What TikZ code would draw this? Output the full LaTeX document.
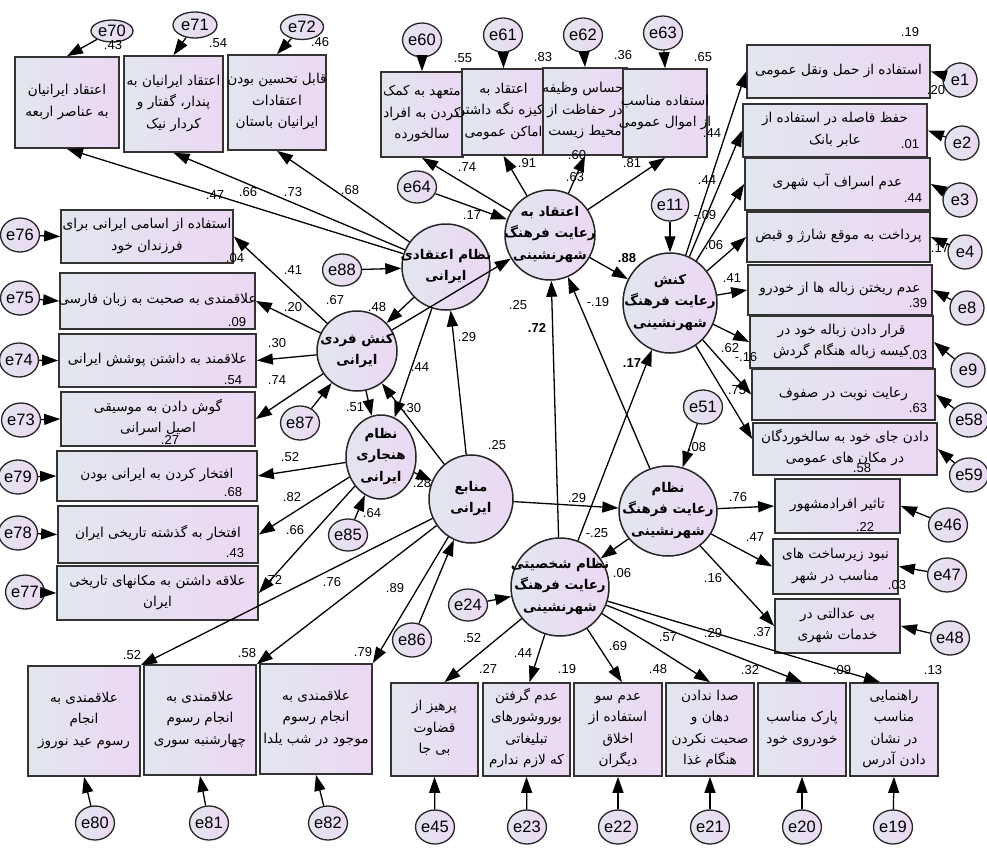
\documentclass[tikz,border=0pt]{standalone}
\usepackage{fontspec}
\setmainfont{Liberation Sans}
\newfontfamily\fafont[Script=Arabic]{DejaVu Sans}
\TeXXeTstate=1
\usetikzlibrary{arrows.meta,shapes.geometric,calc}
\definecolor{boxL}{RGB}{226,230,238}
\definecolor{boxR}{RGB}{236,216,244}
\newcommand{\fatx}[1]{\beginR #1\endR}
\newcommand{\zbox}[1]{\raisebox{-4.5pt}{\smash{\makebox[0pt]{\begin{tabular}{@{}c@{}}#1\end{tabular}}}}}
\begin{document}
\begin{tikzpicture}[x=1pt,y=-1pt,
 wh/.style 2 args={minimum width=#1pt,minimum height=#2pt},
 obsbox/.style={rectangle,draw=black!80,line width=1.7pt,left color=boxL,right color=boxR,inner sep=0pt,font=\fafont\fontsize{13.6}{21.5}\selectfont},
 latent/.style={ellipse,draw=black!85,line width=1.5pt,left color=boxL,right color=boxR,inner sep=0pt,font=\fafont\bfseries\fontsize{13.4}{21.5}\selectfont},
 errc/.style={ellipse,draw=black!85,line width=1.3pt,left color=boxL,right color=boxR,inner sep=0pt,minimum width=34pt,minimum height=34pt,font=\fontsize{16.5}{16.5}\selectfont},
 lbl/.style={inner sep=0pt,font=\fontsize{13}{13}\selectfont},
 blbl/.style={inner sep=0pt,font=\bfseries\fontsize{13}{13}\selectfont},
 arr/.style={-{Triangle[length=16pt,width=11pt]},line width=1.3pt},
]
\useasboundingbox (0,0) rectangle (987,849);
\fill[white] (0,0) rectangle (987,849);

% ---------- observed boxes ----------
\node[obsbox,wh={104}{91}] (A1) at (67,102.5) {\zbox{\fatx{اعتقاد ایرانیان}\\\fatx{به عناصر اربعه}}};
\node[obsbox,wh={99}{96}] (A2) at (173.5,104) {\zbox{\fatx{اعتقاد ایرانیان به}\\\fatx{پندار، گفتار و}\\\fatx{کردار نیک}}};
\node[obsbox,wh={98}{95}] (A3) at (277,102.5) {\zbox{\fatx{قابل تحسین بودن}\\\fatx{اعتقادات}\\\fatx{ایرانیان باستان}}};

\node[obsbox,wh={82}{85}] (B1) at (422,114.5) {\zbox{\fatx{متعهد به کمک}\\\fatx{کردن به افراد}\\\fatx{سالخورده}}};
\node[obsbox,wh={83}{86}] (B2) at (503.5,112) {\zbox{\fatx{اعتقاد به}\\\fatx{پاکیزه نگه داشتن}\\\fatx{اماکن عمومی}}};
\node[obsbox,wh={84}{87}] (B3) at (585,111.5) {\zbox{\fatx{احساس وظیفه}\\\fatx{در حفاظت از}\\\fatx{محیط زیست}}};
\node[obsbox,wh={84}{88}] (B4) at (665,113) {\zbox{\fatx{استفاده مناسب}\\\fatx{از اموال عمومی}}};

\node[obsbox,wh={183}{53}] (C1) at (838.5,71.5) {\zbox{\fatx{استفاده از حمل ونقل عمومی}}};
\node[obsbox,wh={184}{53}] (C2) at (835,130.5) {\zbox{\fatx{حفظ فاصله در استفاده از}\\\fatx{عابر بانک}}};
\node[obsbox,wh={185}{52}] (C3) at (837.5,184) {\zbox{\fatx{عدم اسراف آب شهری}}};
\node[obsbox,wh={183}{50}] (C4) at (838.5,237) {\zbox{\fatx{پرداخت به موقع شارژ و قبض}}};
\node[obsbox,wh={184}{50}] (C5) at (840,290) {\zbox{\fatx{عدم ریختن زباله ها از خودرو}}};
\node[obsbox,wh={183}{52}] (C6) at (841.5,342) {\zbox{\fatx{قرار دادن زباله خود در}\\\fatx{کیسه زباله هنگام گردش}}};
\node[obsbox,wh={183}{51}] (C7) at (843.5,394.5) {\zbox{\fatx{رعایت نوبت در صفوف}}};
\node[obsbox,wh={184}{52}] (C8) at (845,449) {\zbox{\fatx{دادن جای خود به سالخوردگان}\\\fatx{در مکان های عمومی}}};

\node[obsbox,wh={125}{54}] (D1) at (837.5,506) {\zbox{\fatx{تاثیر افرادمشهور}}};
\node[obsbox,wh={125}{55}] (D2) at (835.5,566.5) {\zbox{\fatx{نبود زیرساخت های}\\\fatx{مناسب در شهر}}};
\node[obsbox,wh={125}{54}] (D3) at (837.5,626) {\zbox{\fatx{بی عدالتی در}\\\fatx{خدمات شهری}}};

\node[obsbox,wh={172}{53}] (H1) at (147,236.5) {\zbox{\fatx{استفاده از اسامی ایرانی برای}\\\fatx{فرزندان خود}}};
\node[obsbox,wh={195}{56}] (H2) at (157.5,301) {\zbox{\fatx{علاقمندی به صحبت به زبان فارسی}}};
\node[obsbox,wh={197}{53}] (H3) at (157.5,360.5) {\zbox{\fatx{علاقمند به داشتن پوشش ایرانی}}};
\node[obsbox,wh={194}{54}] (H4) at (158,419) {\zbox{\fatx{گوش دادن به موسیقی}\\\fatx{اصیل اسرانی}}};
\node[obsbox,wh={200}{50}] (H5) at (157,476) {\zbox{\fatx{افتخار کردن به ایرانی بودن}}};
\node[obsbox,wh={200}{57}] (H6) at (158,534.5) {\zbox{\fatx{افتخار به گذشته تاریخی ایران}}};
\node[obsbox,wh={201}{54}] (H7) at (157.5,593) {\zbox{\fatx{علاقه داشتن به مکانهای تاریخی}\\\fatx{ایران}}};

\node[obsbox,wh={112}{110}] (G1) at (84,721) {\zbox{\fatx{علاقمندی به}\\\fatx{انجام}\\\fatx{رسوم عید نوروز}}};
\node[obsbox,wh={112}{110}] (G2) at (200,720) {\zbox{\fatx{علاقمندی به}\\\fatx{انجام رسوم}\\\fatx{چهارشنبه سوری}}};
\node[obsbox,wh={112}{110}] (G3) at (316,719) {\zbox{\fatx{علاقمندی به}\\\fatx{انجام رسوم}\\\fatx{موجود در شب یلدا}}};

\node[obsbox,wh={87}{93}] (F1) at (434.5,729.5) {\zbox{\fatx{پرهیز از}\\\fatx{قضاوت}\\\fatx{بی جا}}};
\node[obsbox,wh={87}{93}] (F2) at (526.5,729.5) {\zbox{\fatx{عدم گرفتن}\\\fatx{بوروشورهای}\\\fatx{تبلیغاتی}\\\fatx{که لازم ندارم}}};
\node[obsbox,wh={88}{93}] (F3) at (618,729.5) {\zbox{\fatx{عدم سو}\\\fatx{استفاده از}\\\fatx{اخلاق}\\\fatx{دیگران}}};
\node[obsbox,wh={88}{93}] (F4) at (710,729.5) {\zbox{\fatx{صدا ندادن}\\\fatx{دهان و}\\\fatx{صحبت نکردن}\\\fatx{هنگام غذا}}};
\node[obsbox,wh={88}{93}] (F5) at (802,729.5) {\zbox{\fatx{پارک مناسب}\\\fatx{خودروی خود}}};
\node[obsbox,wh={88}{93}] (F6) at (894,729.5) {\zbox{\fatx{راهنمایی}\\\fatx{مناسب}\\\fatx{در نشان}\\\fatx{دادن آدرس}}};

% ---------- latent variables ----------
\node[latent,wh={90}{90}] (L1) at (550,235) {\zbox{\fatx{اعتقاد به}\\\fatx{رعایت فرهنگ}\\\fatx{شهرنشینی}}};
\node[latent,wh={88}{86}] (L2) at (446,267) {\zbox{\fatx{نظام اعتقادی}\\\fatx{ایرانی}}};
\node[latent,wh={80}{80}] (L3) at (357,351) {\zbox{\fatx{کنش فردی}\\\fatx{ایرانی}}};
\node[latent,wh={94}{100}] (L4) at (670,303) {\zbox{\fatx{کنش}\\\fatx{رعایت فرهنگ}\\\fatx{شهرنشینی}}};
\node[latent,wh={70}{84}] (L5) at (381,457) {\zbox{\fatx{نظام}\\\fatx{هنجاری}\\\fatx{ایرانی}}};
\node[latent,wh={84}{88}] (L6) at (471,499) {\zbox{\fatx{منابع}\\\fatx{ایرانی}}};
\node[latent,wh={98}{90}] (L7) at (668,511) {\zbox{\fatx{نظام}\\\fatx{رعایت فرهنگ}\\\fatx{شهرنشینی}}};
\node[latent,wh={98}{98}] (L8) at (560,587) {\zbox{\fatx{نظام شخصیتی}\\\fatx{رعایت فرهنگ}\\\fatx{شهرنشینی}}};

% ---------- error terms ----------
\node[errc,wh={42}{22}] (e70) at (112,31) {e70};
\node[errc,wh={44}{26}] (e71) at (195,25) {e71};
\node[errc,wh={43}{25}] (e72) at (302,27) {e72};
\node[errc] (e60) at (422,40) {e60};
\node[errc] (e61) at (503,35) {e61};
\node[errc] (e62) at (583,35) {e62};
\node[errc] (e63) at (663,33) {e63};
\node[errc,wh={32}{32}] (e64) at (417,187) {e64};
\node[errc,wh={32}{32}] (e88) at (342,270) {e88};
\node[errc,wh={32}{32}] (e11) at (670,205) {e11};
\node[errc] (e87) at (300,423) {e87};
\node[errc,wh={32}{32}] (e85) at (348,535) {e85};
\node[errc] (e86) at (412,640) {e86};
\node[errc,wh={32}{32}] (e24) at (468,605) {e24};
\node[errc] (e51) at (703,407) {e51};
\node[lbl] (n18) at (936,90) {.20};
\node[lbl] (n21) at (940,248) {.17};
\node[errc] (e1) at (960,80) {e1};
\node[errc] (e2) at (962,143) {e2};
\node[errc] (e3) at (960,200) {e3};
\node[errc] (e4) at (965,252) {e4};
\node[errc] (e8) at (967,308) {e8};
\node[errc] (e9) at (968,370) {e9};
\node[errc] (e58) at (969,420) {e58};
\node[errc] (e59) at (969,475) {e59};
\node[errc] (e46) at (948,525) {e46};
\node[errc] (e47) at (947,575) {e47};
\node[errc] (e48) at (950,638) {e48};
\node[errc] (e76) at (20,235) {e76};
\node[errc] (e75) at (20,298) {e75};
\node[errc] (e74) at (19,360) {e74};
\node[errc] (e73) at (21,420) {e73};
\node[errc] (e79) at (18,477) {e79};
\node[errc] (e78) at (18,533) {e78};
\node[errc] (e77) at (25,592) {e77};
\node[errc] (e80) at (95,823) {e80};
\node[errc] (e81) at (209,823) {e81};
\node[errc] (e82) at (328,823) {e82};
\node[errc] (e45) at (435,827) {e45};
\node[errc] (e23) at (527,827) {e23};
\node[errc] (e22) at (618,827) {e22};
\node[errc] (e21) at (710,827) {e21};
\node[errc] (e20) at (802,827) {e20};
\node[errc] (e19) at (893,827) {e19};

% ---------- error arrows ----------
\draw[arr] (e70) -- (A1.north);
\draw[arr] (e71) -- (A2.north);
\draw[arr] (e72) -- (A3.north);
\draw[arr] (e60) -- (B1.north);
\draw[arr] (e61) -- (B2.north);
\draw[arr] (e62) -- (B3.north);
\draw[arr] (e63) -- (B4.north);
\draw[arr] (e1) -- (C1.east);
\draw[arr] (e2) -- (C2.east);
\draw[arr] (e3) -- (C3.east);
\draw[arr] (e4) -- (C4.east);
\draw[arr] (e8) -- (C5.east);
\draw[arr] (e9) -- (C6.east);
\draw[arr] (e58) -- (C7.east);
\draw[arr] (e59) -- (C8.east);
\draw[arr] (e46) -- (D1.east);
\draw[arr] (e47) -- (D2.east);
\draw[arr] (e48) -- (D3.east);
\draw[arr] (e76) -- (H1.west);
\draw[arr] (e75) -- (H2.west);
\draw[arr] (e74) -- (H3.west);
\draw[arr] (e73) -- (H4.west);
\draw[arr] (e79) -- (H5.west);
\draw[arr] (e78) -- (H6.west);
\draw[arr] (e77) -- (H7.west);
\draw[arr] (e80) -- (G1.south);
\draw[arr] (e81) -- (G2.south);
\draw[arr] (e82) -- (G3.south);
\draw[arr] (e45) -- (F1.south);
\draw[arr] (e23) -- (F2.south);
\draw[arr] (e22) -- (F3.south);
\draw[arr] (e21) -- (F4.south);
\draw[arr] (e20) -- (F5.south);
\draw[arr] (e19) -- (F6.south);
\draw[arr] (e64) -- (L1);
\draw[arr] (e88) -- (L2);
\draw[arr] (e11) -- (L4);
\draw[arr] (e87) -- (L3);
\draw[arr] (e85) -- (L5);
\draw[arr] (e86) -- (L6);
\draw[arr] (e24) -- (L8);
\draw[arr] (e51) -- (L7);

% ---------- structural and measurement paths ----------
\draw[arr] (L2) -- (A1.south);
\draw[arr] (L2) -- (A2.south);
\draw[arr] (L2) -- (A3.south);
\draw[arr] (L2) -- (L3);
\draw[arr] (L2) -- (L5);
\draw[arr] (L1) -- (B1.south);
\draw[arr] (L1) -- (B2.south);
\draw[arr] (L1) -- (B3.south);
\draw[arr] (L1) -- (B4.south);
\draw[arr] (L1) -- (L4);
\draw[arr] (L4) -- (C1.west);
\draw[arr] (L4) -- (C2.west);
\draw[arr] (L4) -- (C3.west);
\draw[arr] (L4) -- (C4.west);
\draw[arr] (L4) -- (C5.west);
\draw[arr] (L4) -- (C6.west);
\draw[arr] (L4) -- (C7.west);
\draw[arr] (L4) -- ([yshift=10pt]C8.west);
\draw[arr] (L3) -- (H1.east);
\draw[arr] (L3) -- (H2.east);
\draw[arr] (L3) -- (H3.east);
\draw[arr] (L3) -- (H4.east);
\draw[arr] (L3) -- (L5);
\draw[arr] (L3) -- (L1);
\draw[arr] (L5) -- (H5.east);
\draw[arr] (L5) -- (H6.east);
\draw[arr] (L5) -- (H7.east);
\draw[arr] (L5) -- (L6);
\draw[arr] (L6) -- (L2);
\draw[arr] (L6) -- (L3);
\draw[arr] (L6) -- (L7);
\draw[arr] (L6) -- (G1.north east);
\draw[arr] (L6) -- (G2.north east);
\draw[arr] (L6) -- (G3.north east);
\draw[arr] (L7) -- (D1.west);
\draw[arr] (L7) -- (D2.west);
\draw[arr] (L7) -- (D3.west);
\draw[arr] (L7) -- (L8);
\draw[arr] (L7) -- (L1);
\draw[arr] (L8) -- (L1);
\draw[arr] (L8) -- (L4);
\draw[arr] (L8) -- ([xshift=10pt]F1.north);
\draw[arr] (L8) -- ([xshift=3pt]F2.north);
\draw[arr] (L8) -- ([xshift=4pt]F3.north);
\draw[arr] (L8) -- (F4.north);
\draw[arr] (L8) -- (F5.north);
\draw[arr] (L8) -- ([xshift=-14pt]F6.north);

% ---------- coefficient labels ----------
\node[lbl] (n1) at (113,45) {.43};
\node[lbl] (n2) at (218,43) {.54};
\node[lbl] (n3) at (320,42) {.46};
\node[lbl] (n4) at (215,195) {.47};
\node[lbl] (n5) at (248,192) {.66};
\node[lbl] (n6) at (293,192) {.73};
\node[lbl] (n7) at (350,190) {.68};
\node[lbl] (n8) at (463,58) {.55};
\node[lbl] (n9) at (543,57) {.83};
\node[lbl] (n10) at (623,55) {.36};
\node[lbl] (n11) at (703,57) {.65};
\node[lbl] (n12) at (467,167) {.74};
\node[lbl] (n13) at (527,163) {.91};
\node[lbl] (n14) at (577,155) {.60};
\node[lbl] (n15) at (575,177) {.63};
\node[lbl] (n16) at (632,163) {.81};
\node[lbl] (n17) at (910,32) {.19};
\node[lbl] (n19) at (910,144) {.01};
\node[lbl] (n20) at (913,198) {.44};
\node[lbl] (n22) at (918,303) {.39};
\node[lbl] (n23) at (918,355) {.03};
\node[lbl] (n24) at (918,408) {.63};
\node[lbl] (n25) at (862,468) {.58};
\node[lbl] (n26) at (712,133) {.44};
\node[lbl] (n27) at (707,180) {.44};
\node[lbl] (n28) at (705,215) {-.09};
\node[lbl] (n29) at (714,245) {.06};
\node[lbl] (n30) at (732,278) {.41};
\node[lbl] (n31) at (730,348) {.62};
\node[lbl] (n32) at (746,357) {-.16};
\node[lbl] (n33) at (737,390) {.75};
\node[lbl] (n34) at (865,527) {.22};
\node[lbl] (n35) at (897,585) {.03};
\node[lbl] (n36) at (762,632) {.37};
\node[lbl] (n37) at (738,497) {.76};
\node[lbl] (n38) at (755,537) {.47};
\node[lbl] (n39) at (713,578) {.16};
\node[lbl] (n40) at (713,633) {.29};
\node[lbl] (n41) at (933,670) {.13};
\node[lbl] (n42) at (842,670) {.09};
\node[lbl] (n43) at (750,670) {.32};
\node[lbl] (n44) at (658,669) {.48};
\node[lbl] (n45) at (567,669) {.19};
\node[lbl] (n46) at (488,669) {.27};
\node[lbl] (n47) at (472,638) {.52};
\node[lbl] (n48) at (523,653) {.44};
\node[lbl] (n49) at (618,646) {.69};
\node[lbl] (n50) at (668,637) {.57};
\node[lbl] (n51) at (132,655) {.52};
\node[lbl] (n52) at (247,653) {.58};
\node[lbl] (n53) at (363,652) {.79};
\node[lbl] (n54) at (332,582) {.76};
\node[lbl] (n55) at (395,588) {.89};
\node[lbl] (n56) at (235,258) {.04};
\node[lbl] (n57) at (237,322) {.09};
\node[lbl] (n58) at (233,380) {.54};
\node[lbl] (n59) at (170,440) {.27};
\node[lbl] (n60) at (233,492) {.68};
\node[lbl] (n61) at (235,553) {.43};
\node[lbl] (n62) at (273,580) {.72};
\node[lbl] (n63) at (293,270) {.41};
\node[lbl] (n64) at (293,307) {.20};
\node[lbl] (n65) at (277,343) {.30};
\node[lbl] (n66) at (277,380) {.74};
\node[lbl] (n67) at (290,457) {.52};
\node[lbl] (n68) at (292,497) {.82};
\node[lbl] (n69) at (295,530) {.66};
\node[lbl] (n70) at (335,300) {.67};
\node[lbl] (n71) at (377,307) {.48};
\node[lbl] (n72) at (472,215) {.17};
\node[blbl] (n73) at (627,258) {.88};
\node[lbl] (n74) at (518,305) {.25};
\node[lbl] (n75) at (598,302) {-.19};
\node[blbl] (n76) at (537,328) {.72};
\node[lbl] (n77) at (467,337) {.29};
\node[lbl] (n78) at (420,367) {.44};
\node[blbl] (n79) at (632,363) {.17};
\node[lbl] (n80) at (355,407) {.51};
\node[lbl] (n81) at (412,408) {.30};
\node[lbl] (n82) at (422,483) {.28};
\node[lbl] (n83) at (372,513) {.64};
\node[lbl] (n84) at (497,445) {.25};
\node[lbl] (n85) at (577,498) {.29};
\node[lbl] (n86) at (597,533) {-.25};
\node[lbl] (n87) at (622,573) {.06};
\node[lbl] (n88) at (697,447) {.08};
\end{tikzpicture}
\end{document}
